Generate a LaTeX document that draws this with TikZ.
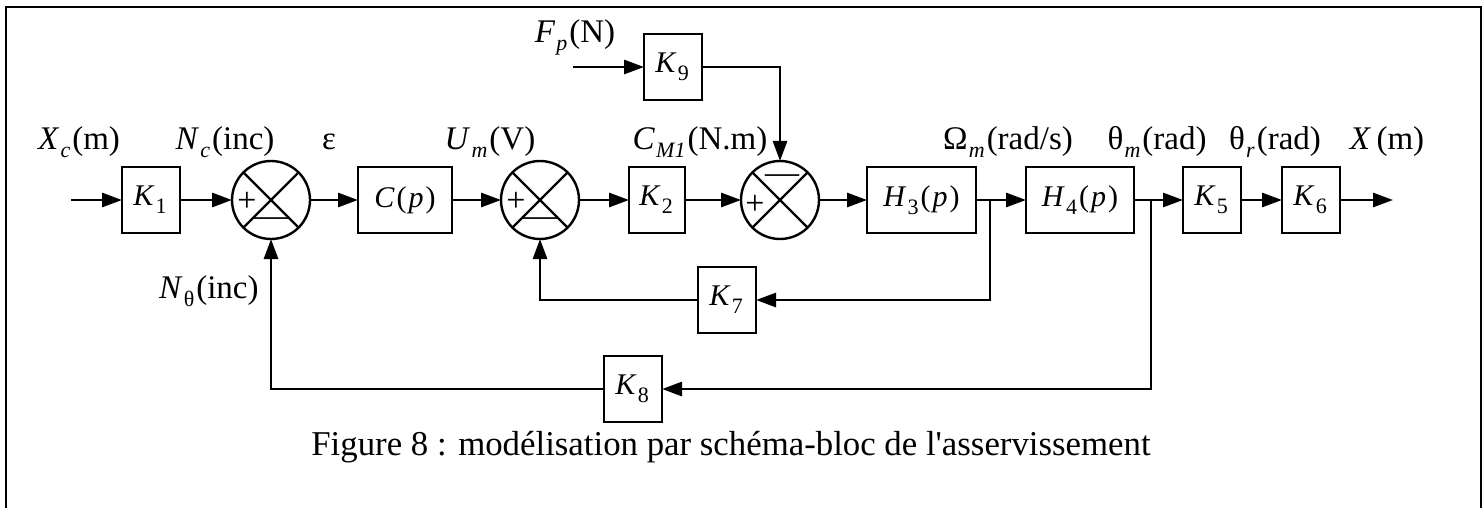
\documentclass[tikz,border=0pt]{standalone}
\usepackage{fontspec}
\setmainfont{Liberation Serif}
\usetikzlibrary{positioning, arrows.meta, calc}

\newcommand{\lblfont}{\fontsize{16.5}{19}\selectfont}
\newcommand{\blkfont}{\fontsize{15}{18}\selectfont}
\newcommand{\capfont}{\fontsize{17.4}{21}\selectfont}
\newcommand{\vsub}[2]{#1\kern0.6pt\raisebox{-4pt}{\fontsize{11}{11}\selectfont #2}\kern1pt}

\begin{document}
\begin{tikzpicture}[
    x=0.5pt, y=-0.5pt,
    node distance = 24pt,
    blk/.style = {draw, line width=1.4pt, minimum width=29pt,
                  minimum height=33pt, inner sep=0pt, outer sep=0pt,
                  font=\blkfont},
    wblk/.style = {blk, minimum width=54pt},
    sum/.style = {draw, circle, line width=1.2pt, minimum size=39pt,
                  inner sep=0pt, outer sep=0pt},
    lbl/.style = {anchor=base, inner sep=0pt, font=\lblfont},
    sgn/.style = {inner sep=0pt, font=\fontsize{17}{17}\selectfont},
    arr/.style = {-{Triangle[length=10pt, width=7pt]}, line width=1.4pt},
  ]
    \useasboundingbox (0,0) rectangle (1483,508);
    % frame
    \draw[line width=1pt] (6,508) -- (6,7) -- (1481,7) -- (1481,508);

    % forward chain
    \coordinate (in) at (71,200);
    \node[blk] (k1) at (151,200) {\vsub{\textit{K}}{1}};
    \node[sum, right=26pt of k1] (s1) {};
    \node[blk, minimum width=47pt, right=24pt of s1] (cp) {\textit{C}\kern1pt(\kern1pt\textit{p}\kern1pt)};
    \node[sum, right=24.5pt of cp] (s2) {};
    \node[blk, minimum width=28pt, right=25pt of s2] (k2) {\vsub{\textit{K}}{2}};
    \node[sum, right=28pt of k2] (s3) {};
    \node[wblk, minimum width=54.5pt, right=24pt of s3] (h3) {\vsub{\textit{H}}{3}(\kern1pt\textit{p}\kern1pt)};
    \node[wblk, right=25pt of h3] (h4) {\vsub{\textit{H}}{4}(\kern1pt\textit{p}\kern1pt)};
    \node[blk, right=24.5pt of h4] (k5) {\vsub{\textit{K}}{5}};
    \node[blk, right=20.5pt of k5] (k6) {\vsub{\textit{K}}{6}};
    \coordinate (out) at (1393,200);

    % disturbance and feedback blocks
    \coordinate (fp) at (573,67);
    \node[blk] (k9) at (673,67) {\vsub{\textit{K}}{9}};
    \node[blk] (k7) at (727,300) {\vsub{\textit{K}}{7}};
    \node[blk] (k8) at (633,389) {\vsub{\textit{K}}{8}};
    \coordinate (b1) at (990,200);
    \coordinate (b2) at (1151,200);

    \foreach \s in {s1,s2,s3}
      \draw[line width=1.2pt] (\s.north west) -- (\s.south east)
                              (\s.north east) -- (\s.south west);

    \draw[arr] (in) -- (k1);
    \draw[arr] (k1) -- (s1);
    \draw[arr] (s1) -- (cp);
    \draw[arr] (cp) -- (s2);
    \draw[arr] (s2) -- (k2);
    \draw[arr] (k2) -- (s3);
    \draw[arr] (s3) -- (h3);
    \draw[arr] (h3) -- (h4);
    \draw[arr] (h4) -- (k5);
    \draw[arr] (k5) -- (k6);
    \draw[arr] (k6) -- (out);
    \draw[arr] (fp) -- (k9);
    \draw[arr] (k9) -| (s3);
    \draw[arr] (b1) |- (k7);
    \draw[arr] (k7) -| (s2);
    \draw[arr] (b2) |- (k8);
    \draw[arr] (k8) -| (s1);

    % signs
    \node[sgn] (p1) at ($(s1)+(-24,2)$) {+};
    \node[sgn] (m1) at ($(s1)+(0,22)$) {—};
    \node[sgn] (p2) at ($(s2)+(-24,2)$) {+};
    \node[sgn] (m2) at ($(s2)+(0,22)$) {—};
    \node[sgn] (p3) at ($(s3)+(-25,5)$) {+};
    \node[sgn] (m3) at ($(s3)+(2,-21)$) {—};

    % signal labels
    \node[lbl] (lxc) at (79,149) {\vsub{\textit{X}}{\textit{c}}(m)};
    \node[lbl] (lnc) at (225,149) {\vsub{\textit{N}}{\textit{c}}(inc)};
    \node[lbl] (leps) at (329,149) {ε};
    \node[lbl] (lum) at (490,149) {\vsub{\textit{U}}{\textit{m}}(V)};
    \node[lbl] (lcm) at (700,149) {\vsub{\textit{C}}{\textit{M1}}(N.m)};
    \node[lbl] (lfp) at (575,43) {\vsub{\textit{F}}{\textit{p}}(N)};
    \node[lbl] (lom) at (1008,149) {\vsub{Ω}{\textit{m}}(rad/s)};
    \node[lbl] (ltm) at (1157,149) {\vsub{θ}{\textit{m}}(rad)};
    \node[lbl] (ltr) at (1275,149) {\vsub{θ}{\textit{r}}(rad)};
    \node[lbl] (lx) at (1387,149) {\textit{X}\,(m)};
    \node[lbl, anchor=base east] (lnt) at (259,298) {\vsub{\textit{N}}{θ}(inc)};

    \node[anchor=base, inner sep=0pt, font=\capfont] (cap) at (731,455)
      {Figure 8 : modélisation par schéma-bloc de l\textquotesingle asservissement};
\end{tikzpicture}
\end{document}
